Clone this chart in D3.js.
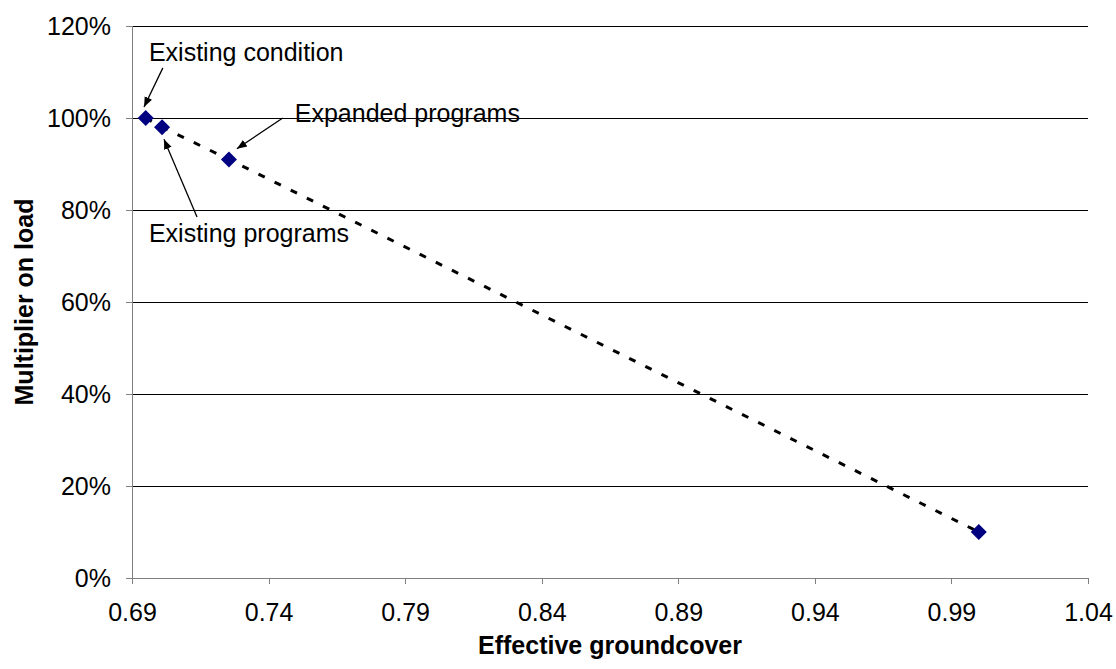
<!DOCTYPE html>
<html>
<head>
<meta charset="utf-8">
<script src="https://cdn.jsdelivr.net/npm/d3@7"></script>
<style>
  body { margin: 0; background: #fff; }
  text { font-family: "Liberation Sans", Arial, sans-serif; }
</style>
</head>
<body>
<svg></svg>
<script>
"use strict";

// Data
const groundcover = [0.695, 0.701, 0.7255, 1.0];
const loadMultiplier = [1.00, 0.98, 0.91, 0.10];

const xTicks = [0.69, 0.74, 0.79, 0.84, 0.89, 0.94, 0.99, 1.04];
const yTicks = [0, 0.2, 0.4, 0.6, 0.8, 1.0, 1.2];

// Annotations (data units): label position, arrow start, arrow end
const noteLabels = ["Existing condition", "Expanded programs", "Existing programs"];
const noteText = [[0.6962, 1.124], [0.7496, 0.991], [0.6962, 0.730]];
const noteFrom = [[0.7013, 1.109], [0.7452, 1.0], [0.7138, 0.785]];
const noteTo = [[0.6944, 1.024], [0.7284, 0.933], [0.7017, 0.954]];

// Sizes
const W = 1116, H = 669;
const margin = { l: 132, r: 28, t: 26, b: 91 };
const width = W - margin.l - margin.r;
const height = H - margin.t - margin.b;

const svg = d3.select("svg")
  .attr("width", W)
  .attr("height", H);

svg.append("defs").append("marker")
  .attr("id", "arrow")
  .attr("viewBox", "0 0 10 10")
  .attr("refX", 10).attr("refY", 5)
  .attr("markerWidth", 10).attr("markerHeight", 10)
  .attr("markerUnits", "userSpaceOnUse")
  .attr("orient", "auto")
  .append("path")
    .attr("d", "M0,1 L10,5 L0,9 Z")
    .attr("fill", "#000");

const g = svg.append("g")
  .attr("transform", `translate(${margin.l}, ${margin.t})`);

// Scales
const xScale = d3.scaleLinear()
  .domain([0.69, 1.04])
  .range([0, width]);

const yScale = d3.scaleLinear()
  .domain([0, 1.2])
  .range([height, 0]);

// Gridlines
g.append("g")
  .selectAll("line")
  .data(yTicks.filter(d => d > 0))
  .join("line")
    .attr("x1", 0).attr("x2", width)
    .attr("y1", d => yScale(d)).attr("y2", d => yScale(d))
    .attr("stroke", "#000")
    .attr("stroke-width", 1)
    .attr("shape-rendering", "crispEdges");

// Axes
const yAxis = g.append("g")
  .call(d3.axisLeft(yScale).tickValues(yTicks).tickFormat(d3.format(".0%"))
    .tickSize(6).tickPadding(15));

const xAxis = g.append("g")
  .attr("transform", `translate(0, ${height})`)
  .call(d3.axisBottom(xScale).tickValues(xTicks).tickFormat(d3.format(".2f"))
    .tickSize(6).tickPadding(19));

[yAxis, xAxis].forEach(a => {
  a.selectAll("path, line")
    .attr("stroke", "#808080")
    .attr("shape-rendering", "crispEdges");
  a.selectAll("text")
    .attr("font-size", 25)
    .attr("fill", "#000")
    .style("font-family", "Liberation Sans, Arial, sans-serif");
  a.select(".domain").attr("d", a === yAxis ? `M0,${height}V0` : `M0,0H${width}`);
});

// Axis titles
svg.append("text")
  .attr("x", margin.l + width / 2)
  .attr("y", 654)
  .attr("text-anchor", "middle")
  .attr("font-size", 25)
  .attr("font-weight", "bold")
  .text("Effective groundcover");

svg.append("text")
  .attr("transform", `translate(33, ${margin.t + height / 2}) rotate(-90)`)
  .attr("text-anchor", "middle")
  .attr("font-size", 25)
  .attr("font-weight", "bold")
  .text("Multiplier on load");

// Dotted trend line
const points = groundcover.map((x, i) => [x, loadMultiplier[i]]);

const line = d3.line()
  .x(d => xScale(d[0]))
  .y(d => yScale(d[1]));

g.append("path")
  .attr("d", line(points))
  .attr("fill", "none")
  .attr("stroke", "#000")
  .attr("stroke-width", 3)
  .attr("stroke-dasharray", "7,11");

// Diamond markers
g.selectAll(".pt")
  .data(points)
  .join("path")
    .attr("class", "pt")
    .attr("d", d3.symbol().type(d3.symbolSquare).size(128))
    .attr("transform", d => `translate(${xScale(d[0])}, ${yScale(d[1])}) rotate(45)`)
    .attr("fill", "#000080");

// Annotations
noteLabels.forEach((label, i) => {
  g.append("line")
    .attr("x1", xScale(noteFrom[i][0])).attr("y1", yScale(noteFrom[i][1]))
    .attr("x2", xScale(noteTo[i][0])).attr("y2", yScale(noteTo[i][1]))
    .attr("stroke", "#000")
    .attr("stroke-width", 1.3)
    .attr("marker-end", "url(#arrow)");

  g.append("text")
    .attr("x", xScale(noteText[i][0]))
    .attr("y", yScale(noteText[i][1]))
    .attr("font-size", 25)
    .text(label);
});
</script>
</body>
</html>
